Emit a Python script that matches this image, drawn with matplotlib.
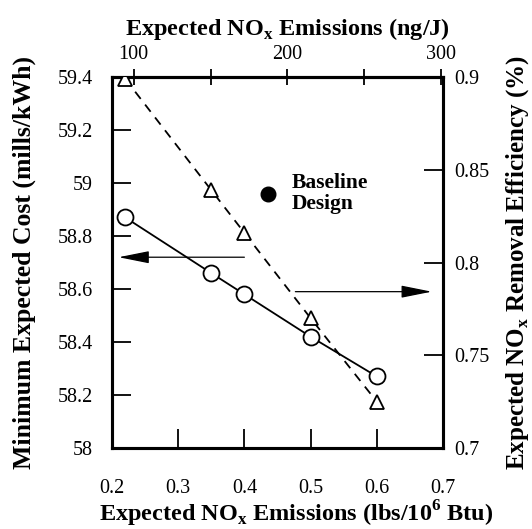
import matplotlib
matplotlib.use("Agg")
import matplotlib.pyplot as plt

plt.rcParams['font.family'] = ['Liberation Serif', 'DejaVu Serif']
plt.rcParams['mathtext.fontset'] = 'custom'
plt.rcParams['mathtext.rm'] = 'Liberation Serif'
plt.rcParams['mathtext.bf'] = 'Liberation Serif:bold'

# Donnees
emissions = [0.22, 0.35, 0.40, 0.50, 0.60]           # lbs/10^6 Btu
cout = [58.87, 58.66, 58.58, 58.42, 58.27]          # mills/kWh
efficacite = [0.899, 0.839, 0.816, 0.770, 0.725]    # fraction
baseline_x = 0.436
baseline_y = 58.96

x_ticks = [0.2, 0.3, 0.4, 0.5, 0.6, 0.7]
y_ticks = [58, 58.2, 58.4, 58.6, 58.8, 59, 59.2, 59.4]
y2_ticks = [0.7, 0.75, 0.8, 0.85, 0.9]
top_ticks = [100, 150, 200, 250, 300]
top_labels = ['100', '', '200', '', '300']
NG_PAR_LBS = 430.0  # 1 lb/10^6 Btu = 430 ng/J

fig = plt.figure(figsize=(5.32, 5.29), dpi=100)
ax = fig.add_axes([0.2105, 0.1531, 0.6222, 0.7013])
ax2 = ax.twinx()

ax.plot(emissions, cout, '-', color='black', lw=1.3, marker='o', ms=11.5,
        mfc='white', mec='black', mew=1.3, zorder=3)
ax2.plot(emissions, efficacite, '--', color='black', lw=1.3, dashes=(5, 4),
         marker='^', ms=10, mfc='white', mec='black', mew=1.3, zorder=3)
ax.plot([baseline_x], [baseline_y], 'o', color='black', ms=10.5)
ax.text(0.472, 58.96, 'Baseline\nDesign', fontsize=15.5, fontweight='bold',
        va='center', ha='left', linespacing=1.05)

# fleches
style = '-|>,head_length=1.9,head_width=0.38'
ax.annotate('', xy=(0.21, 58.72), xytext=(0.40, 58.72),
            arrowprops=dict(arrowstyle=style, color='black', lw=0.9,
                            shrinkA=0, shrinkB=0))
ax.annotate('', xy=(0.683, 58.59), xytext=(0.477, 58.59),
            arrowprops=dict(arrowstyle=style, color='black', lw=0.9,
                            shrinkA=0, shrinkB=0))

ax.set_xlim(0.2, 0.7)
ax.set_ylim(58, 59.4)
ax2.set_ylim(0.7, 0.9)
ax.set_xticks(x_ticks)
ax.set_xticklabels([f'{v:g}' for v in x_ticks])
ax.set_yticks(y_ticks)
ax.set_yticklabels([f'{v:g}' for v in y_ticks])
ax2.set_yticks(y2_ticks)
ax2.set_yticklabels([f'{v:g}' for v in y2_ticks])

top = ax.secondary_xaxis('top', functions=(lambda x: x * NG_PAR_LBS,
                                           lambda x: x / NG_PAR_LBS))
top.set_xticks(top_ticks)
top.set_xticklabels(top_labels)

ax.tick_params(axis='x', direction='in', length=14, width=1.3, pad=22, labelsize=14.5)
ax.tick_params(axis='y', direction='in', length=14, width=1.3, pad=14, labelsize=14.5)
ax2.tick_params(axis='y', direction='in', length=14, width=1.3, pad=8, labelsize=14.5)
top.tick_params(axis='x', direction='inout', length=11, width=1.3, pad=4, labelsize=14.5)

for a in (ax, ax2):
    for s in a.spines.values():
        s.set_linewidth(2.2)
top.spines['top'].set_linewidth(2.2)

ax.set_xlabel(r'Expected NO$_{\mathbf{x}}$ Emissions (lbs/10$^{\mathbf{6}}$ Btu)',
              fontsize=17.5, fontweight='bold', labelpad=1)
ax.xaxis.label.set_x(0.555)
top.set_xlabel(r'Expected NO$_{\mathbf{x}}$ Emissions (ng/J)',
               fontsize=17.5, fontweight='bold', labelpad=7)
top.xaxis.label.set_x(0.529)
ax.set_ylabel('Minimum Expected Cost (mills/kWh)', fontsize=18.5,
              fontweight='bold', labelpad=15)
ax2.set_ylabel(r'Expected NO$_{\mathbf{x}}$ Removal Efficiency (%)', fontsize=18,
               fontweight='bold', labelpad=11)

fig.savefig('out.png', dpi=100)
